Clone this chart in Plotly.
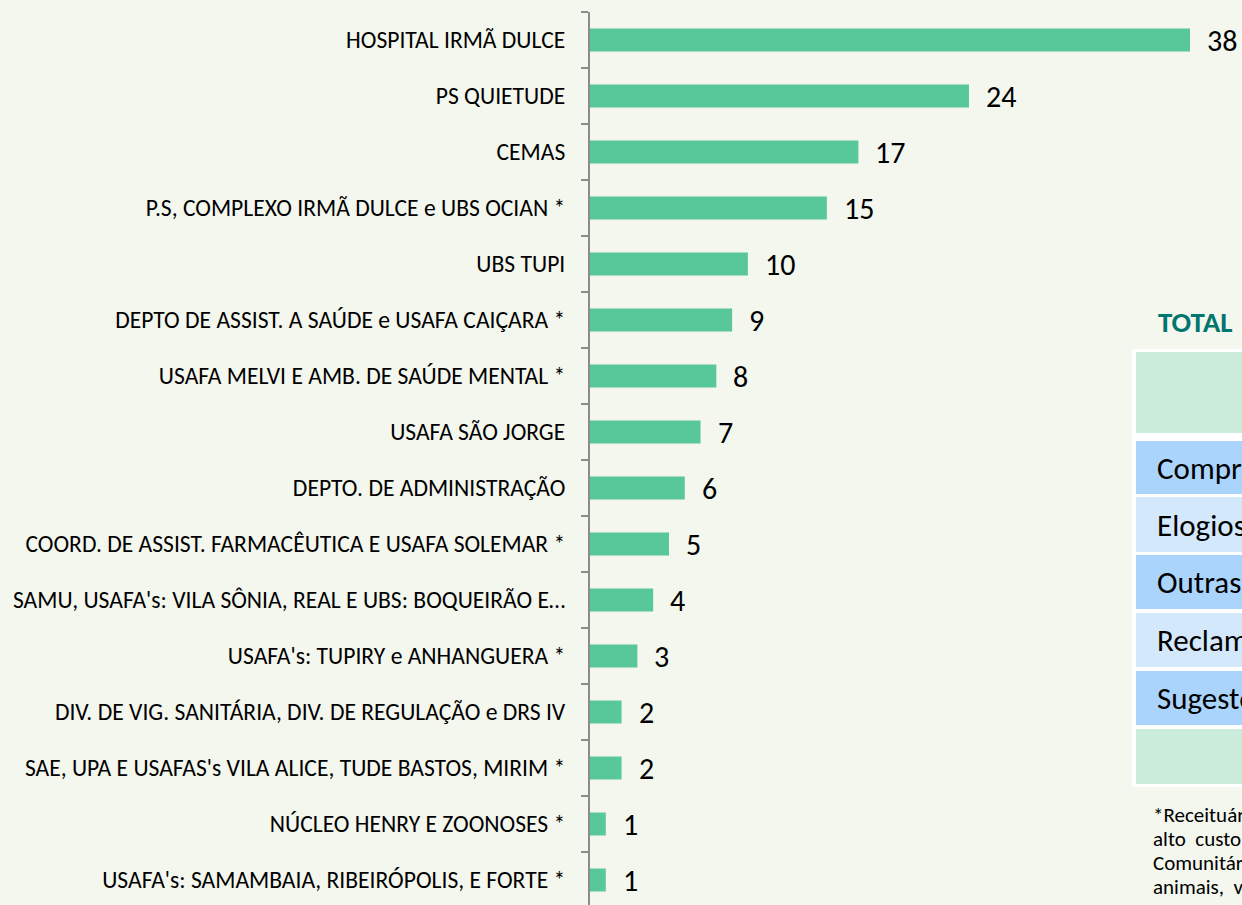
import plotly.graph_objects as go

categories = [
    "HOSPITAL IRMÃ DULCE",
    "PS QUIETUDE",
    "CEMAS",
    "P.S, COMPLEXO IRMÃ DULCE e UBS OCIAN *",
    "UBS TUPI",
    "DEPTO DE ASSIST. A SAÚDE e USAFA CAIÇARA *",
    "USAFA MELVI E AMB. DE SAÚDE MENTAL *",
    "USAFA SÃO JORGE",
    "DEPTO. DE ADMINISTRAÇÃO",
    "COORD. DE ASSIST. FARMACÊUTICA E USAFA SOLEMAR *",
    "SAMU, USAFA's: VILA SÔNIA, REAL E UBS: BOQUEIRÃO E…",
    "USAFA's: TUPIRY e ANHANGUERA *",
    "DIV. DE VIG. SANITÁRIA, DIV. DE REGULAÇÃO e DRS IV",
    "SAE, UPA E USAFAS's VILA ALICE, TUDE BASTOS, MIRIM *",
    "NÚCLEO HENRY E ZOONOSES *",
    "USAFA's: SAMAMBAIA, RIBEIRÓPOLIS, E FORTE *",
]
values = [38, 24, 17, 15, 10, 9, 8, 7, 6, 5, 4, 3, 2, 2, 1, 1]

table_title = "TOTAL"
table_rows = ["Comprimentos", "Elogios", "Outras", "Reclamações", "Sugestões"]
footnote_lines = [
    "*Receituários de medicamentos de",
    "alto  custo,  Agentes",
    "Comunitários de Saúde,",
    "animais,  vacinação",
]

W, H = 1242, 905
ML, MR, MT, MB = 590, 0, 12, 0
PW, PH = W - ML - MR, H - MT - MB

def px(x):
    return (x - ML) / PW

def py(y):
    return 1 - (y - MT) / PH

FONT = "Carlito, Lato, sans-serif"
BG = "#f4f7ee"

fig = go.Figure()
fig.add_trace(go.Bar(
    x=values, y=categories, orientation="h",
    marker=dict(color="#58c89a", line=dict(width=0)),
    hoverinfo="x+y",
))

for c, v in zip(categories, values):
    fig.add_annotation(
        x=v, y=c, xref="x", yref="y", text=str(v), showarrow=False,
        xanchor="left", yanchor="middle", xshift=15,
        font=dict(family=FONT, size=30, color="#000000"),
    )

shapes = []
shapes.append(dict(type="rect", xref="paper", yref="paper",
                   x0=px(1132), x1=px(1250), y0=py(787), y1=py(349),
                   fillcolor="#ffffff", line=dict(width=0), layer="above"))
rows_px = [(352, 433, "#cdeddc")]
row_bounds = [(441, 494), (497, 552), (555, 609), (613, 667), (671, 725)]
row_colors = ["#aad4fc", "#d4e8fc", "#aad4fc", "#d4e8fc", "#aad4fc"]
for (y0, y1), col in zip(row_bounds, row_colors):
    rows_px.append((y0, y1, col))
rows_px.append((729, 784, "#cdeddc"))
for y0, y1, col in rows_px:
    shapes.append(dict(type="rect", xref="paper", yref="paper",
                       x0=px(1136), x1=px(1250), y0=py(y1), y1=py(y0),
                       fillcolor=col, line=dict(width=0), layer="above"))

fig.add_annotation(xref="paper", yref="paper", x=px(1156), y=py(322),
                   text="<b>" + table_title + "</b>", showarrow=False,
                   xanchor="left", yanchor="middle",
                   font=dict(family=FONT, size=29, color="#00766e"))
for (y0, y1), t in zip(row_bounds, table_rows):
    fig.add_annotation(xref="paper", yref="paper", x=px(1155), y=py((y0 + y1) / 2),
                       text=t, showarrow=False, xanchor="left", yanchor="middle",
                       font=dict(family=FONT, size=31, color="#000000"))
for i, line in enumerate(footnote_lines):
    fig.add_annotation(xref="paper", yref="paper", x=px(1151), y=py(815 + 24 * i),
                       text=line, showarrow=False, xanchor="left", yanchor="middle",
                       font=dict(family=FONT, size=21, color="#000000"))

fig.update_layout(
    width=W, height=H,
    margin=dict(l=ML, r=MR, t=MT, b=MB),
    paper_bgcolor=BG, plot_bgcolor=BG,
    bargap=0.59,
    showlegend=False,
    shapes=shapes,
    font=dict(family=FONT, color="#000000"),
)
fig.update_xaxes(range=[0, PW / (600 / 38)], visible=False, showgrid=False, zeroline=False)
fig.update_yaxes(
    type="category", categoryorder="array", categoryarray=categories,
    range=[-0.5 + PH / 56.0, -0.5],
    showline=True, linecolor="#8c8c8c", linewidth=2,
    ticks="outside", tickson="boundaries", ticklen=7, tickcolor="#8c8c8c", tickwidth=2,
    ticklabelstandoff=18,
    tickfont=dict(family=FONT, size=23.6, color="#000000"),
    showgrid=False, zeroline=False, automargin=False,
)

fig.write_html(
    "out.html",
    config={"displayModeBar": False},
    post_script="document.body.style.margin='0';document.body.style.overflow='hidden';",
)
